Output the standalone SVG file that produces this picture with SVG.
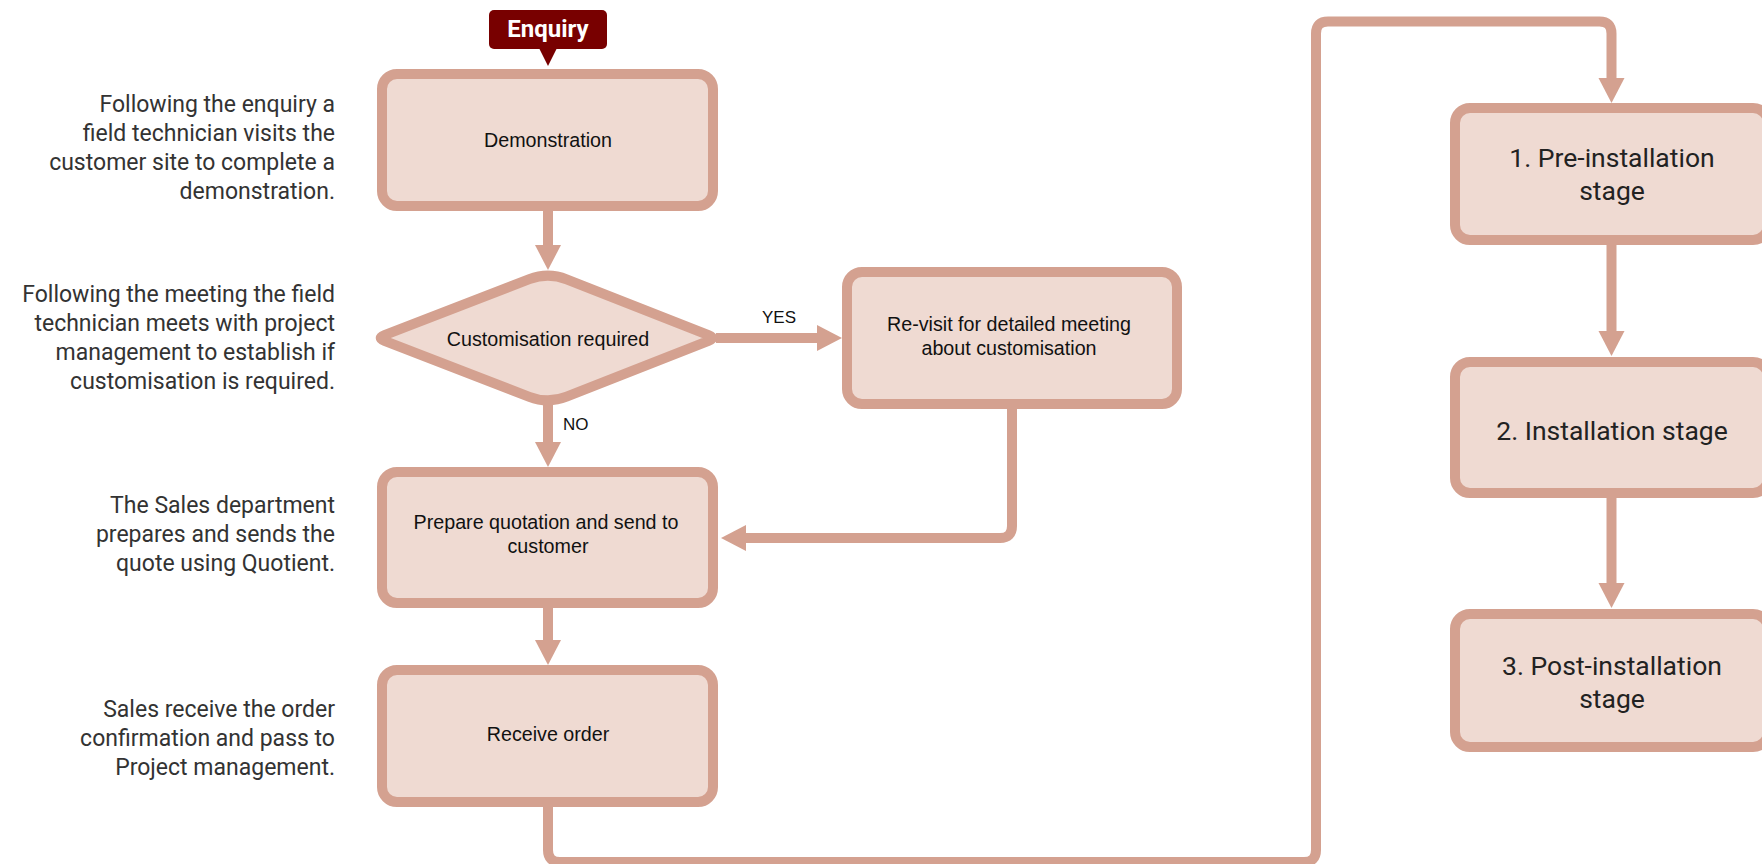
<svg xmlns="http://www.w3.org/2000/svg" width="1762" height="864" viewBox="0 0 1762 864">
<style>
.box{fill:#EFDAD2;stroke:#D4A190;stroke-width:10}
.con{fill:none;stroke:#D4A190;stroke-width:10;stroke-linecap:butt;stroke-linejoin:round}
.t{font-family:"Liberation Sans",Arial,sans-serif;font-size:19.7px;fill:#111;text-anchor:middle}
.lbl{font-family:"Liberation Sans",Arial,sans-serif;font-size:17px;fill:#111}
.s{font-family:Roboto,"Noto Sans",sans-serif;font-size:26.5px;fill:#222;text-anchor:middle}
.d{font-family:Roboto,"Noto Sans",sans-serif;font-size:23px;fill:#333;text-anchor:end}
</style>
<defs>
<marker id="ah" markerUnits="userSpaceOnUse" markerWidth="25" markerHeight="26" refX="0" refY="13" orient="auto" overflow="visible">
<path d="M0,0 L25,13 L0,26 Z" fill="#D4A190"/>
</marker>
</defs>
<rect width="1762" height="864" fill="#fff"/>

<g id="descriptions">
<text class="d" x="335"><tspan x="335" y="112">Following the enquiry a</tspan><tspan x="335" y="141">field technician visits the</tspan><tspan x="335" y="170">customer site to complete a</tspan><tspan x="335" y="199">demonstration.</tspan></text>
<text class="d" x="335"><tspan x="335" y="302">Following the meeting the field</tspan><tspan x="335" y="331">technician meets with project</tspan><tspan x="335" y="360">management to establish if</tspan><tspan x="335" y="389">customisation is required.</tspan></text>
<text class="d" x="335"><tspan x="335" y="513">The Sales department</tspan><tspan x="335" y="542">prepares and sends the</tspan><tspan x="335" y="571">quote using Quotient.</tspan></text>
<text class="d" x="335"><tspan x="335" y="717">Sales receive the order</tspan><tspan x="335" y="746">confirmation and pass to</tspan><tspan x="335" y="775">Project management.</tspan></text>
</g>

<g id="connectors">
<path class="con" d="M548,211 L548,245" marker-end="url(#ah)"/>
<path class="con" d="M548,404 L548,442" marker-end="url(#ah)"/>
<path class="con" d="M716,338 L817,338" marker-end="url(#ah)"/>
<path class="con" d="M1012,409 L1012,526 Q1012,538 1000,538 L746,538" marker-end="url(#ah)"/>
<path class="con" d="M548,608 L548,640" marker-end="url(#ah)"/>
<path class="con" d="M548,807 L548,850 Q548,862 560,862 L1304,862 Q1316,862 1316,850 L1316,33.5 Q1316,21.5 1328,21.5 L1599.5,21.5 Q1611.5,21.5 1611.5,33.5 L1611.5,78" marker-end="url(#ah)"/>
<path class="con" d="M1611.5,245 L1611.5,331" marker-end="url(#ah)"/>
<path class="con" d="M1611.5,498 L1611.5,583" marker-end="url(#ah)"/>
<text class="lbl" x="779" y="323" text-anchor="middle">YES</text>
<text class="lbl" x="563" y="430">NO</text>
</g>

<g id="enquiry">
<rect x="489" y="10" width="118" height="39" rx="5" fill="#780000"/>
<path d="M539,48 L557,48 L548,66 Z" fill="#780000"/>
<text x="548" y="37" font-family="Roboto,'Noto Sans',sans-serif" font-weight="bold" font-size="24px" fill="#fff" text-anchor="middle">Enquiry</text>
</g>

<g id="demonstration">
<rect class="box" x="382" y="74" width="331" height="132" rx="15"/>
<text class="t" x="548" y="147">Demonstration</text>
</g>

<g id="customisation">
<path class="box" stroke-linejoin="round" d="M384.46,335.12 L529.34,279.2 Q548,272 566.62,279.31 L708.55,335.07 Q716,338 708.55,340.93 L566.62,396.69 Q548,404 529.34,396.8 L384.46,340.88 Q377,338 384.46,335.12 Z"/>
<text class="t" x="548" y="346">Customisation required</text>
</g>

<g id="revisit">
<rect class="box" x="847" y="272" width="330" height="132" rx="15"/>
<text class="t" x="1009"><tspan x="1009" y="331">Re-visit for detailed meeting</tspan><tspan x="1009" y="355">about customisation</tspan></text>
</g>

<g id="quotation">
<rect class="box" x="382" y="472" width="331" height="131" rx="15"/>
<text class="t" x="547"><tspan x="546" y="529">Prepare quotation and send to</tspan><tspan x="548" y="553">customer</tspan></text>
</g>

<g id="receive">
<rect class="box" x="382" y="670" width="331" height="132" rx="15"/>
<text class="t" x="548" y="741">Receive order</text>
</g>

<g id="preinstall">
<rect class="box" x="1455" y="108" width="313" height="132" rx="15"/>
<text class="s"><tspan x="1612" y="167">1. Pre-installation</tspan><tspan x="1612" y="200">stage</tspan></text>
</g>

<g id="install">
<rect class="box" x="1455" y="362" width="313" height="131" rx="15"/>
<text class="s" x="1612" y="440">2. Installation stage</text>
</g>

<g id="postinstall">
<rect class="box" x="1455" y="614" width="313" height="133" rx="15"/>
<text class="s"><tspan x="1612" y="675">3. Post-installation</tspan><tspan x="1612" y="708">stage</tspan></text>
</g>
</svg>
